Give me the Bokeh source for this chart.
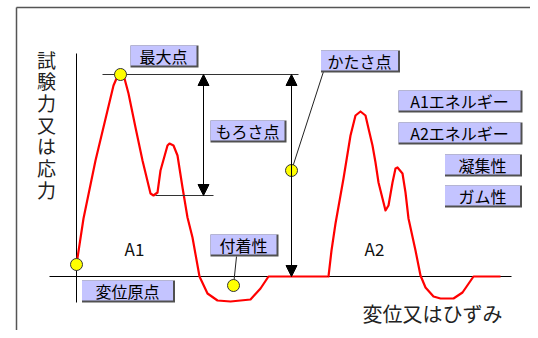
from bokeh.plotting import figure
from bokeh.models import Range1d, Arrow, NormalHead
from bokeh.core.properties import value
from bokeh.embed import file_html
from bokeh.resources import INLINE

# ---------------- data (schematic TPA curve: displacement vs force) ----------------
disp_cycle1 = [0, 7, 19, 31, 37, 40, 44, 48, 52, 59, 66, 74, 77, 81, 84, 91, 93, 97, 101, 106,
               111, 116, 123, 131, 141, 154, 174, 184, 192, 251]
force_cycle1 = [12, 58, 116, 166, 191, 198, 202, 198, 183, 149, 116, 83, 81, 84, 106, 131, 133, 131, 121, 89,
                59, 39, 0, -17, -24, -25, -23, -12, 0, 0]
disp_cycle2 = [251, 252, 255, 259, 267, 274, 279, 284, 289, 292, 296, 299, 302, 306, 309, 312, 316, 319,
               321, 326, 329, 332, 339, 344, 349, 357, 364, 377, 386, 397, 424]
force_cycle2 = [0, 0, 26, 53, 98, 141, 161, 165, 161, 148, 131, 114, 94, 78, 66, 71, 94, 108,
                109, 103, 84, 58, 26, 1, -11, -20, -22, -22, -16, 0, 0]

# key points
max_point = (44, 202)
hardness_point = (215, 106)
origin_point = (0, 12)
adhesion_point = (157, -9)
valley_force = 81

# label texts
label_texts = ["最大点", "もろさ点", "かたさ点", "A1エネルギー", "A2エネルギー", "凝集性", "ガム性", "付着性", "変位原点"]
area_texts = ["A1", "A2"]
y_title = "試験力又は応力"
x_title = "変位又はひずみ"

# ---------------- layout ----------------
label_cx = [88, 172, 284, 384, 384, 407, 407, 168, 52]
label_cy = [220, 145, 215, 175, 143, 111, 80, 31, -15]
label_w = [68, 76, 79, 124, 124, 77, 77, 68, 93]
LABEL_H = 22

JP = value("Noto Sans CJK JP")

p = figure(width=530, height=330, x_range=Range1d(-76, 454), y_range=Range1d(-54, 276),
           min_border=0, toolbar_location=None, output_backend="svg",
           x_axis_location=None, y_axis_location=None)
p.grid.visible = False
p.outline_line_color = None
p.background_fill_color = "white"
p.border_fill_color = "white"

# outer frame (top and left)
p.line([-60, 454], [269, 269], line_color="#555555", line_width=1.5)
p.line([-60, -60], [269, -54], line_color="#555555", line_width=1.5)

# axes
p.line([-27, 435], [0, 0], line_color="black", line_width=1)
p.line([0, 0], [223, -26], line_color="black", line_width=1)

# red curve
p.line(disp_cycle1, force_cycle1, line_color="#FF0000", line_width=2.2, line_join="round")
p.line(disp_cycle2, force_cycle2, line_color="#FF0000", line_width=2.2, line_join="round")

# guide lines
p.line([26, 222], [max_point[1], max_point[1]], line_color="#333333", line_width=1.2)
p.line([79, 137], [valley_force, valley_force], line_color="#333333", line_width=1.2)

# arrows
for xa, y0 in [(127, valley_force), (215, 0)]:
    p.add_layout(Arrow(start=NormalHead(size=11, fill_color="black", line_color="black"),
                       end=NormalHead(size=11, fill_color="black", line_color="black"),
                       x_start=xa, y_start=y0, x_end=xa, y_end=max_point[1],
                       line_color="black", line_width=1))

# leader lines
p.line([hardness_point[0], 247], [hardness_point[1], 205], line_color="#222222", line_width=1)
p.line([adhesion_point[0], 160], [adhesion_point[1], 20], line_color="#222222", line_width=1)

# points
pts = [max_point, hardness_point, origin_point, adhesion_point]
p.scatter([q[0] for q in pts], [q[1] for q in pts], size=12, marker="circle",
          fill_color="#FFFF00", line_color="#333333", line_width=1)

# label boxes
L = [c - w / 2 for c, w in zip(label_cx, label_w)]
R = [c + w / 2 for c, w in zip(label_cx, label_w)]
T = [c + LABEL_H / 2 for c in label_cy]
B = [c - LABEL_H / 2 for c in label_cy]
p.quad(left=L, right=R, top=T, bottom=B, fill_color="#505050", line_color=None)
p.quad(left=L, right=[r - 2 for r in R], top=T, bottom=[b + 2 for b in B],
       fill_color="#C4C4FF", line_color=None)
p.text(x=[c - 1 for c in label_cx], y=[c + 1 for c in label_cy], text=label_texts,
       text_font=JP, text_font_size="16px", text_color="black",
       text_align="center", text_baseline="middle")

# area labels
p.text(x=[58, 298], y=[28, 28], text=area_texts, text_font=JP, text_font_size="17px",
       text_color="#111111", text_align="center", text_baseline="middle")

# axis titles (vertical title stacked character by character)
y_chars = list(y_title)
p.text(x=[-30] * len(y_chars), y=[217.5 - 21.7 * i for i in range(len(y_chars))], text=y_chars,
       text_font=JP, text_font_size="19px", text_color="#222222",
       text_align="center", text_baseline="middle")
p.text(x=[356], y=[-37], text=[x_title], text_font=JP, text_font_size="20px",
       text_color="#222222", text_align="center", text_baseline="middle")

open("out.html", "w").write(file_html(p, INLINE))
